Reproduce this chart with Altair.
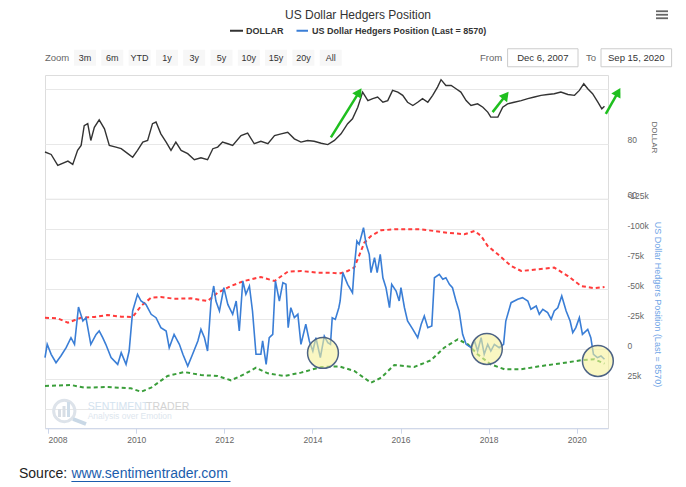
import math
import altair as alt
import pandas as pd

# ---------------- data ----------------
TITLE = "US Dollar Hedgers Position"
NAME_DOLLAR = "DOLLAR"
NAME_HEDGE = "US Dollar Hedgers Position (Last = 8570)"
ZOOM_LABELS = ["3m", "6m", "YTD", "1y", "3y", "5y", "10y", "15y", "20y", "All"]
FROM_LABEL = "Dec 6, 2007"
TO_LABEL = "Sep 15, 2020"
X_START, X_END = 2007.93, 2020.71
X_TICKS = [2008, 2010, 2012, 2014, 2016, 2018, 2020]
DOLLAR_TICKS = [60, 80, 100]
HEDGE_TICKS = [-125, -100, -75, -50, -25, 0, 25, 50]

DOLLAR = [
    (2007.93, 77.0), (2008.07, 76.1), (2008.22, 72.1), (2008.45, 73.7), (2008.56, 72.5),
    (2008.67, 77.6), (2008.75, 79.4), (2008.82, 86.6), (2008.90, 87.3), (2008.97, 81.2),
    (2009.05, 86.0), (2009.16, 88.7), (2009.28, 85.4), (2009.39, 79.4), (2009.54, 78.8),
    (2009.66, 78.2), (2009.81, 76.4), (2009.92, 75.1), (2010.03, 77.6), (2010.15, 80.6),
    (2010.26, 81.2), (2010.37, 87.3), (2010.45, 87.9), (2010.56, 83.6), (2010.68, 80.6),
    (2010.79, 77.6), (2010.90, 80.6), (2011.02, 77.6), (2011.17, 76.4), (2011.32, 74.2),
    (2011.47, 74.9), (2011.62, 74.2), (2011.74, 78.2), (2011.85, 78.8), (2011.96, 80.6),
    (2012.08, 80.0), (2012.19, 79.4), (2012.38, 83.0), (2012.53, 83.9), (2012.68, 80.0),
    (2012.83, 80.9), (2012.99, 80.0), (2013.14, 83.0), (2013.29, 83.6), (2013.44, 84.2),
    (2013.59, 81.8), (2013.74, 80.6), (2013.89, 81.2), (2014.04, 80.9), (2014.20, 80.2),
    (2014.35, 79.7), (2014.50, 81.2), (2014.65, 83.6), (2014.80, 87.3), (2014.91, 89.1),
    (2015.03, 93.3), (2015.14, 98.8), (2015.26, 95.7), (2015.37, 96.4), (2015.48, 97.0),
    (2015.60, 95.1), (2015.71, 95.7), (2015.82, 99.4), (2015.94, 98.8), (2016.05, 97.6),
    (2016.16, 95.1), (2016.28, 93.9), (2016.39, 95.1), (2016.50, 96.4), (2016.62, 95.1),
    (2016.73, 97.6), (2016.84, 100.6), (2016.92, 103.3), (2017.03, 101.2), (2017.15, 101.2),
    (2017.26, 100.0), (2017.37, 98.8), (2017.49, 95.7), (2017.60, 93.9), (2017.75, 94.5),
    (2017.87, 93.3), (2017.98, 91.5), (2018.05, 89.7), (2018.21, 89.7), (2018.32, 93.3),
    (2018.43, 94.5), (2018.58, 95.1), (2018.74, 95.7), (2018.89, 96.4), (2019.04, 97.0),
    (2019.19, 97.6), (2019.34, 97.9), (2019.49, 98.2), (2019.64, 98.8), (2019.80, 97.9),
    (2019.95, 97.6), (2020.06, 99.4), (2020.16, 101.8), (2020.25, 100.0), (2020.36, 98.2),
    (2020.48, 95.1), (2020.57, 92.7), (2020.63, 93.6),
]

# hedgers position, thousands of contracts
HEDGE = [
    (2007.93, 7.2), (2007.98, -3.9), (2008.07, 4.4), (2008.18, 11.4), (2008.29, 5.8),
    (2008.41, -1.1), (2008.52, -9.4), (2008.60, -3.9), (2008.69, -35.0), (2008.79, -23.3),
    (2008.86, -26.1), (2008.97, -3.9), (2009.09, -12.2), (2009.16, -15.0), (2009.24, -9.4),
    (2009.31, -3.9), (2009.43, 7.2), (2009.58, 12.8), (2009.66, 3.1), (2009.77, 12.8),
    (2009.84, 1.7), (2009.92, -31.7), (2010.03, -45.6), (2010.11, -40.0), (2010.22, -37.2),
    (2010.34, -28.9), (2010.45, -26.1), (2010.56, -17.8), (2010.68, -15.0), (2010.75, -1.1),
    (2010.86, -12.2), (2010.98, -3.9), (2011.06, 4.4), (2011.17, 14.2), (2011.28, 4.4),
    (2011.40, -6.7), (2011.47, -16.4), (2011.55, -9.4), (2011.62, 1.7), (2011.70, -40.0),
    (2011.76, -52.5), (2011.81, -40.0), (2011.89, -31.7), (2011.99, -51.1), (2012.08, -37.2),
    (2012.19, -28.9), (2012.27, -40.0), (2012.34, -15.0), (2012.42, -56.7), (2012.49, -45.6),
    (2012.57, -52.5), (2012.64, -31.7), (2012.72, 4.4), (2012.83, 4.4), (2012.87, -6.7),
    (2012.95, 12.8), (2013.02, -9.4), (2013.10, -12.2), (2013.16, -56.7), (2013.25, -40.0),
    (2013.33, -55.3), (2013.40, -53.9), (2013.45, -17.8), (2013.51, -34.4), (2013.59, -26.1),
    (2013.67, -28.9), (2013.74, -3.9), (2013.85, -20.6), (2013.93, -6.7), (2014.01, 1.7),
    (2014.08, -9.4), (2014.18, 7.2), (2014.27, -10.8), (2014.35, -5.3), (2014.41, -3.9),
    (2014.45, -26.1), (2014.52, -24.7), (2014.60, -34.4), (2014.63, -40.0), (2014.69, -63.6),
    (2014.80, -53.9), (2014.91, -46.9), (2014.95, -67.8), (2015.01, -90.0), (2015.06, -87.2),
    (2015.16, -101.1), (2015.22, -87.2), (2015.29, -78.9), (2015.33, -63.6), (2015.41, -76.1),
    (2015.47, -63.6), (2015.54, -78.9), (2015.60, -59.4), (2015.67, -51.1), (2015.75, -34.4),
    (2015.80, -53.9), (2015.90, -48.3), (2015.97, -40.0), (2016.01, -51.1), (2016.09, -34.4),
    (2016.16, -23.3), (2016.28, -16.4), (2016.39, -9.4), (2016.47, -20.6), (2016.54, -27.5),
    (2016.62, -17.8), (2016.71, -19.2), (2016.77, -59.4), (2016.88, -62.2), (2016.96, -58.1),
    (2017.03, -59.4), (2017.11, -53.9), (2017.18, -51.1), (2017.26, -40.0), (2017.33, -31.7),
    (2017.41, -12.2), (2017.49, -3.9), (2017.60, -1.1), (2017.68, -6.7), (2017.75, 1.7),
    (2017.83, -9.4), (2017.90, 4.4), (2017.98, -3.9), (2018.05, 1.7), (2018.13, -3.9),
    (2018.24, -1.1), (2018.34, -3.9), (2018.39, -23.3), (2018.51, -38.6), (2018.66, -41.4),
    (2018.77, -42.8), (2018.89, -40.0), (2018.96, -33.1), (2019.08, -35.8), (2019.15, -28.9),
    (2019.23, -33.1), (2019.34, -30.3), (2019.42, -24.7), (2019.49, -31.7), (2019.57, -34.4),
    (2019.66, -44.2), (2019.76, -31.7), (2019.85, -23.3), (2019.91, -13.6), (2019.98, -17.8),
    (2020.06, -26.1), (2020.13, -12.2), (2020.25, -16.4), (2020.32, -9.4), (2020.38, 4.4),
    (2020.47, 7.2), (2020.55, 5.8), (2020.63, 8.57),
]

UPPER_BAND = [
    (2007.93, -26.1), (2008.22, -25.5), (2008.45, -21.9), (2008.75, -26.1), (2009.05, -26.7),
    (2009.35, -28.3), (2009.66, -26.9), (2009.92, -26.7), (2010.11, -35.8), (2010.34, -42.8),
    (2010.56, -43.3), (2010.86, -41.9), (2011.24, -42.2), (2011.62, -40.0), (2011.85, -46.9),
    (2012.15, -52.5), (2012.45, -56.7), (2012.83, -60.0), (2013.14, -56.7), (2013.44, -64.4),
    (2013.74, -65.0), (2014.12, -63.6), (2014.42, -63.6), (2014.61, -62.8), (2014.80, -65.0),
    (2014.95, -67.8), (2015.18, -88.6), (2015.33, -94.2), (2015.56, -98.9), (2015.86, -99.7),
    (2016.47, -99.7), (2017.07, -96.9), (2017.45, -95.6), (2017.68, -98.3), (2017.83, -94.2),
    (2017.98, -85.8), (2018.21, -78.9), (2018.51, -69.2), (2018.74, -65.0), (2019.11, -66.4),
    (2019.49, -67.8), (2019.80, -60.8), (2020.10, -52.5), (2020.40, -50.6), (2020.63, -51.7),
]

LOWER_BAND = [
    (2007.93, 30.8), (2008.52, 30.0), (2008.82, 32.2), (2009.35, 31.7), (2009.88, 32.8),
    (2010.11, 35.6), (2010.34, 32.2), (2010.71, 22.5), (2011.09, 19.2), (2011.47, 21.7),
    (2011.85, 22.5), (2012.15, 26.1), (2012.45, 21.1), (2012.72, 15.6), (2012.99, 20.3),
    (2013.36, 22.5), (2013.74, 19.7), (2014.20, 15.0), (2014.61, 14.5), (2014.95, 18.3),
    (2015.33, 28.1), (2015.56, 23.9), (2015.86, 13.3), (2016.31, 15.0), (2016.69, 9.4),
    (2016.99, -1.1), (2017.30, -8.1), (2017.53, -3.9), (2017.75, 4.4), (2018.05, 12.8),
    (2018.36, 16.9), (2018.74, 16.9), (2019.19, 14.2), (2019.64, 11.9), (2020.10, 9.4),
    (2020.40, 8.6), (2020.63, 12.2),
]

HIGHLIGHTS = [(2014.24, 3.3), (2017.96, 0.0), (2020.48, 10.0)]

# arrows on the dollar panel: (year0, value0, year1, value1)
ARROWS = [
    (2014.42, 82.3, 2015.06, 98.8),
    (2018.09, 91.5, 2018.39, 97.6),
    (2020.66, 90.9, 2020.94, 98.8),
]

WATERMARK_A = "SENTIMENT"
WATERMARK_B = "TRADER"
WATERMARK_C = "Analysis over Emotion"
SOURCE_LABEL = "Source:"
SOURCE_LINK = "www.sentimentrader.com"

# ---------------- layout / style ----------------
FONT = "Liberation Sans, Arial, sans-serif"
W = 563
DOL_DOMAIN = [60, 105]
H1 = (DOL_DOMAIN[1] - DOL_DOMAIN[0]) * 2.75
HED_DOMAIN = [-125, 66]
H2 = (HED_DOMAIN[1] - HED_DOMAIN[0]) * 1.2

BLUE = "#3a7ed6"
GREEN_ARROW = "#1fbf1f"
GRID = "#e8e8e8"

ONE = pd.DataFrame({"k": [0]})


def txt(s, x, y, size=10, color="#333333", align="left", weight="normal", baseline="middle", font=FONT):
    return alt.Chart(ONE).mark_text(
        text=s, align=align, baseline=baseline, fontSize=size, color=color,
        fontWeight=weight, font=font
    ).encode(x=alt.value(x), y=alt.value(y))


def box(x1, x2, y1, y2, fill, stroke=None, sw=1):
    kw = dict(fill=fill)
    if stroke:
        kw.update(stroke=stroke, strokeWidth=sw)
    return alt.Chart(ONE).mark_rect(**kw).encode(
        x=alt.value(x1), x2=alt.value(x2), y=alt.value(y1), y2=alt.value(y2))


def seg(x1, x2, y1, y2, color, width):
    return alt.Chart(ONE).mark_rule(color=color, strokeWidth=width).encode(
        x=alt.value(x1), x2=alt.value(x2), y=alt.value(y1), y2=alt.value(y2))


xscale = alt.Scale(domain=[X_START, X_END], nice=False, zero=False)

dollar_df = pd.DataFrame(DOLLAR, columns=["year", "value"])
hedge_df = pd.DataFrame(HEDGE, columns=["year", "value"])
upper_df = pd.DataFrame(UPPER_BAND, columns=["year", "value"])
lower_df = pd.DataFrame(LOWER_BAND, columns=["year", "value"])
hl_df = pd.DataFrame(HIGHLIGHTS, columns=["year", "value"])
arrow_df = pd.DataFrame(ARROWS, columns=["y0", "v0", "y1", "v1"])
px_per_year = W / (X_END - X_START)
px_per_unit = H1 / (DOL_DOMAIN[1] - DOL_DOMAIN[0])
arrow_df["angle"] = [
    math.degrees(math.atan2((r.y1 - r.y0) * px_per_year, (r.v1 - r.v0) * px_per_unit))
    for r in arrow_df.itertuples()
]

# ---------------- top panel: DOLLAR ----------------
dol_y = alt.Y(
    "value:Q",
    scale=alt.Scale(domain=DOL_DOMAIN, nice=False, zero=False),
    axis=alt.Axis(
        orient="right", values=DOLLAR_TICKS, tickCount=10, grid=True, gridColor=GRID,
        domain=False, ticks=False,
        labelPadding=19, labelOffset=-4, labelColor="#666666", labelFontSize=8.5, labelFont=FONT,
        labelOverlap=False,
        labelExpr="datum.value == 100 ? '' : datum.label",
        title=NAME_DOLLAR, titleAngle=90, titleX=45, titleBaseline="middle", titleAlign="center",
        titleColor="#666666", titleFontSize=8, titleFontWeight="normal", titleFont=FONT,
    ),
)

dollar_line = alt.Chart(dollar_df).mark_line(color="#333333", strokeWidth=1.4).encode(
    x=alt.X("year:Q", scale=xscale, axis=None), y=dol_y)

arrow_lines = alt.Chart(arrow_df).mark_rule(color=GREEN_ARROW, strokeWidth=2.5).encode(
    x=alt.X("y0:Q", scale=xscale), x2="y1:Q", y=alt.Y("v0:Q"), y2="v1:Q")
arrow_heads = alt.Chart(arrow_df).mark_point(
    shape="triangle-up", filled=True, color=GREEN_ARROW, opacity=1, size=110
).encode(x=alt.X("y1:Q", scale=xscale), y=alt.Y("v1:Q"), angle=alt.Angle("angle:Q", scale=None))

header = []
# title
header.append(txt(TITLE, 313, -59.75, size=12, color="#333333", align="center"))
# legend
header.append(seg(185, 198, -44.25, -44.25, "#333333", 2))
header.append(txt(NAME_DOLLAR, 201, -44.25, size=9, weight="bold"))
header.append(seg(251.5, 263, -44.25, -44.25, BLUE, 2))
header.append(txt(NAME_HEDGE, 267, -44.25, size=9, weight="bold"))
# range selector
ZR = -17.25
header.append(txt("Zoom", 0, ZR, size=9.5, color="#666666"))
for i, lab in enumerate(ZOOM_LABELS):
    cx = 40 + i * 27.3
    header.append(box(cx - 11, cx + 11, ZR - 8, ZR + 8, "#f7f7f7"))
    header.append(txt(lab, cx, ZR, size=9, color="#333333", align="center"))
header.append(txt("From", 435, ZR, size=9.5, color="#666666"))
header.append(box(462.6, 533, ZR - 9, ZR + 9, "#ffffff", "#cccccc"))
header.append(txt(FROM_LABEL, 497.8, ZR, size=9.5, color="#333333", align="center"))
header.append(txt("To", 541, ZR, size=9.5, color="#666666"))
header.append(box(556, 626.6, ZR - 9, ZR + 9, "#ffffff", "#cccccc"))
header.append(txt(TO_LABEL, 591.3, ZR, size=9.5, color="#333333", align="center"))
# menu icon
for yy in (-63.75, -60.25, -56.75):
    header.append(seg(611, 623, yy, yy, "#666666", 1.8))

top = alt.layer(dollar_line, arrow_lines, arrow_heads, *header).properties(width=W, height=H1)

# ---------------- bottom panel: hedgers ----------------
hed_y = alt.Y(
    "value:Q",
    scale=alt.Scale(domain=HED_DOMAIN, nice=False, zero=False, reverse=True),
    axis=alt.Axis(
        orient="right", values=HEDGE_TICKS, tickCount=20, grid=True, gridColor=GRID,
        domain=False, ticks=False,
        labelPadding=19, labelOffset=-4, labelColor="#666666", labelFontSize=8.5, labelFont=FONT,
        labelOverlap=False,
        labelExpr="datum.value == 50 ? '' : (datum.value == 0 ? '0' : datum.value + 'k')",
        title=NAME_HEDGE, titleAngle=90, titleX=49, titleY=105, titleBaseline="middle",
        titleAlign="center", titleColor="#6ea4e6", titleFontSize=9, titleFontWeight="normal",
        titleFont=FONT,
    ),
)
hed_x = alt.X(
    "year:Q", scale=xscale,
    axis=alt.Axis(
        values=X_TICKS, tickCount=20, format="d", grid=False, domainColor="#ccd6eb",
        tickColor="#ccd6eb",
        tickSize=5, labelColor="#666666", labelFontSize=8.5, labelFont=FONT, labelPadding=2,
        labelOverlap=False,
        labelAlign={"condition": {"test": "datum.value == 2008", "value": "left"}, "value": "center"},
        title=None,
    ),
)

wm = []
wm.append(alt.Chart(ONE).mark_point(shape="circle", filled=False, stroke="#dde3ea", strokeWidth=3,
                                     size=452, opacity=1).encode(x=alt.value(19.3), y=alt.value(212)))
wm.append(seg(28, 41, 220, 225, "#c9d8e6", 4))
wm.append(box(13, 16, 210, 218, "#d8dee5"))
wm.append(box(17.5, 20.5, 207, 218, "#d8dee5"))
wm.append(box(22, 25, 203, 218, "#cfdde9"))
wm.append(txt(WATERMARK_A, 42.7, 207.8, size=10.5, color="#d4e3ef"))
wm.append(txt(WATERMARK_B, 101.1, 207.8, size=10.5, color="#d3d3d3"))
wm.append(txt(WATERMARK_C, 42.7, 217, size=8.5, color="#dde6ee"))

upper = alt.Chart(upper_df).mark_line(color="#ff3b3b", strokeWidth=2, strokeDash=[4, 3]).encode(
    x=hed_x, y=hed_y)
lower = alt.Chart(lower_df).mark_line(color="#3a9e3a", strokeWidth=2, strokeDash=[4, 3]).encode(
    x=alt.X("year:Q", scale=xscale), y=alt.Y("value:Q"))
hedge = alt.Chart(hedge_df).mark_line(color=BLUE, strokeWidth=1.6).encode(
    x=alt.X("year:Q", scale=xscale), y=alt.Y("value:Q"))
circles = alt.Chart(hl_df).mark_point(
    shape="circle", filled=True, fill="#f6f29a", fillOpacity=0.6, stroke="#4d6385",
    strokeWidth=1.5, opacity=1, size=950
).encode(x=alt.X("year:Q", scale=xscale), y=alt.Y("value:Q"))

footer = [
    txt(SOURCE_LABEL, -26, 275, size=14, color="#222222"),
    txt(SOURCE_LINK, 26.4, 275, size=14, color="#1a5dad"),
    seg(26.4, 185.5, 282.5, 282.5, "#1a5dad", 1),
]

bottom = alt.layer(*wm, upper, lower, hedge, circles, *footer).properties(width=W, height=H2)

chart = alt.vconcat(top, bottom, spacing=0, bounds="flush").resolve_scale(
    x="independent", y="independent"
).properties(
    padding={"left": 10, "top": 0, "right": 5, "bottom": 0}
).configure_view(stroke=None).configure(font=FONT)

chart.save("out.html", embed_options={"renderer": "svg", "actions": False})
